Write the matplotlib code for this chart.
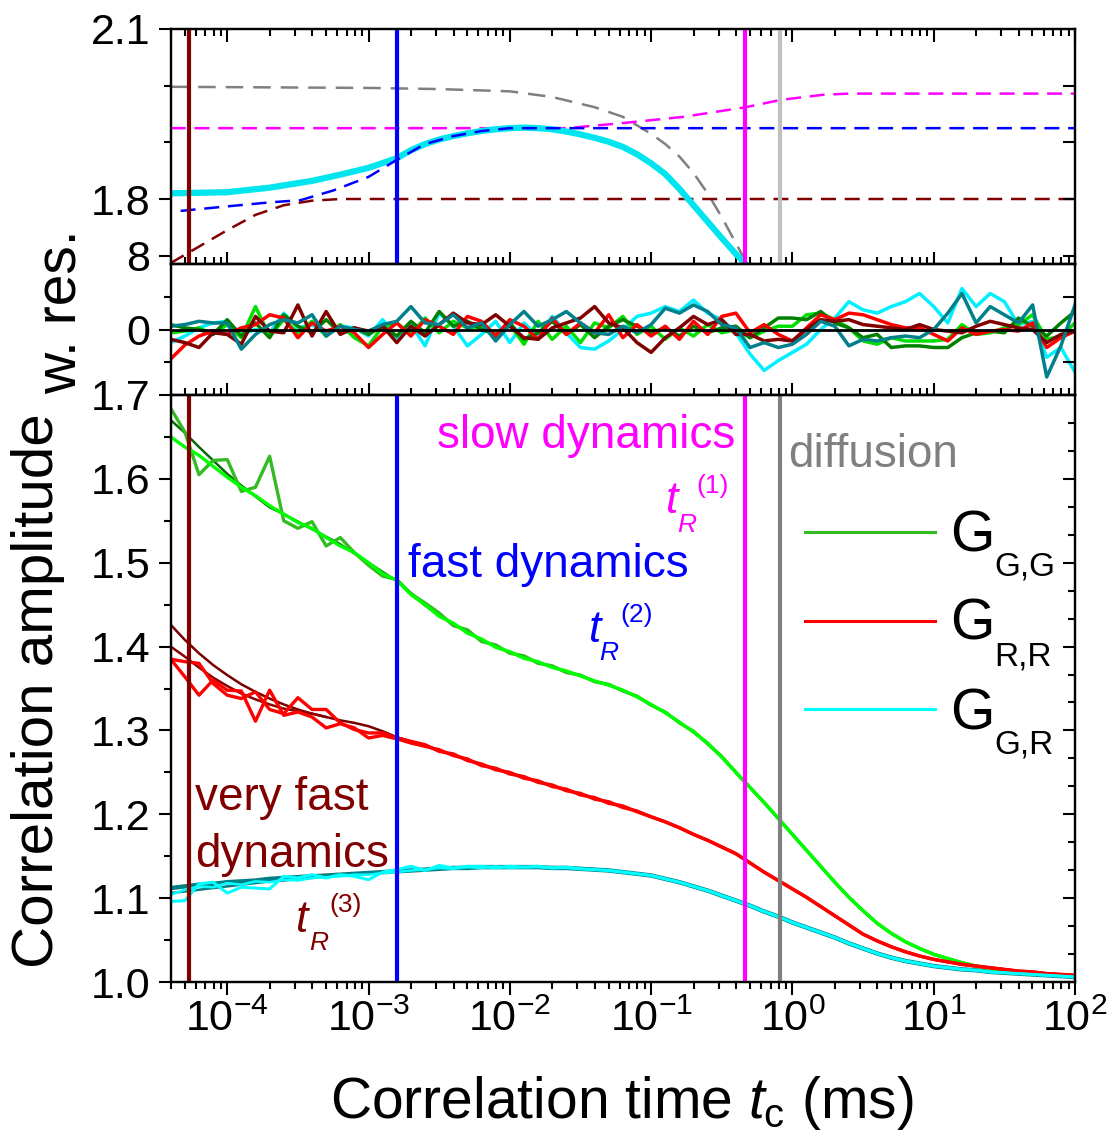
import numpy as np
import matplotlib
matplotlib.use('Agg')
import matplotlib.pyplot as plt
from matplotlib.lines import Line2D
from matplotlib.ticker import (FixedLocator, FixedFormatter, LogLocator, NullFormatter,
                               MultipleLocator, AutoMinorLocator, FormatStrFormatter)

plt.rcParams['font.family'] = ['Liberation Sans', 'DejaVu Sans']
plt.rcParams['mathtext.fontset'] = 'custom'
plt.rcParams['mathtext.rm'] = 'Liberation Sans'
plt.rcParams['mathtext.it'] = 'Liberation Sans:italic'

# ---- data ----
# correlator lag grid: log10(t_c / ms), one point per 0.1 decade
log_t = np.round(np.arange(-4.4, 2.05, 0.1), 1)

# G_G,G : fit + two measured curves (noisy head, then on the fit)
gg_fit = [1.670, 1.655, 1.638, 1.622, 1.606, 1.592, 1.579, 1.566, 1.558, 1.549,
          1.540, 1.531, 1.522, 1.511, 1.500, 1.489, 1.478, 1.464, 1.449, 1.438,
          1.427, 1.417, 1.408, 1.400, 1.393, 1.387, 1.381, 1.376, 1.370, 1.365,
          1.359, 1.354, 1.348, 1.340, 1.331, 1.321, 1.310, 1.298, 1.285, 1.268,
          1.250, 1.232, 1.214, 1.195, 1.176, 1.157, 1.138, 1.119, 1.101, 1.085,
          1.070, 1.058, 1.048, 1.040, 1.033, 1.028, 1.023, 1.019, 1.016, 1.014,
          1.012, 1.010, 1.009, 1.008, 1.007]
gg_a_head = [1.650, 1.638, 1.628, 1.615, 1.602, 1.590, 1.580, 1.568, 1.558, 1.548,
             1.541, 1.530, 1.520, 1.512, 1.500, 1.487, 1.479, 1.462, 1.450, 1.436,
             1.428, 1.416, 1.409, 1.399, 1.394, 1.386, 1.382, 1.375, 1.371, 1.365]
gg_b_head = [1.684, 1.656, 1.605, 1.622, 1.623, 1.585, 1.590, 1.627, 1.550, 1.541,
             1.549, 1.520, 1.530, 1.512, 1.497, 1.484, 1.480, 1.463, 1.452, 1.440,
             1.425, 1.420, 1.406, 1.402, 1.392, 1.389, 1.380, 1.377, 1.369, 1.366,
             1.358, 1.355, 1.347, 1.341, 1.330, 1.322, 1.309, 1.299, 1.284, 1.269]

# G_R,R
rr_fit = [1.426, 1.408, 1.392, 1.378, 1.366, 1.355, 1.346, 1.338, 1.331, 1.325,
          1.320, 1.316, 1.312, 1.309, 1.305, 1.299, 1.292, 1.287, 1.282, 1.276,
          1.271, 1.265, 1.259, 1.254, 1.249, 1.244, 1.239, 1.234, 1.229, 1.224,
          1.219, 1.214, 1.209, 1.203, 1.197, 1.191, 1.184, 1.176, 1.169, 1.161,
          1.153, 1.142, 1.131, 1.121, 1.111, 1.101, 1.090, 1.079, 1.068, 1.057,
          1.049, 1.042, 1.036, 1.031, 1.027, 1.024, 1.021, 1.019, 1.017, 1.015,
          1.013, 1.012, 1.010, 1.009, 1.008]
rr_fit2 = [1.400, 1.388, 1.375, 1.363, 1.353, 1.344, 1.337, 1.331, 1.326, 1.323,
           1.320, 1.316]
rr_a_head = [1.385, 1.382, 1.380, 1.356, 1.342, 1.338, 1.346, 1.325, 1.320, 1.339,
             1.325, 1.325, 1.309, 1.301, 1.297, 1.297, 1.291, 1.287, 1.283, 1.275,
             1.272, 1.264, 1.260, 1.253, 1.250, 1.243, 1.240, 1.233, 1.230, 1.223,
             1.220, 1.213, 1.210, 1.203]
rr_b_head = [1.385, 1.364, 1.342, 1.360, 1.348, 1.347, 1.311, 1.348, 1.318, 1.322,
             1.316, 1.303, 1.308, 1.303, 1.291, 1.294, 1.290, 1.285, 1.281, 1.277,
             1.270, 1.266, 1.258, 1.255, 1.248, 1.245, 1.238, 1.235, 1.228, 1.225,
             1.218, 1.215, 1.208, 1.204]

# G_G,R
gr_fit = [1.112, 1.114, 1.116, 1.117, 1.119, 1.120, 1.121, 1.123, 1.124, 1.125,
          1.126, 1.127, 1.128, 1.129, 1.130, 1.131, 1.132, 1.133, 1.134, 1.135,
          1.136, 1.136, 1.137, 1.137, 1.137, 1.137, 1.137, 1.136, 1.136, 1.135,
          1.134, 1.133, 1.131, 1.129, 1.127, 1.123, 1.119, 1.114, 1.109, 1.103,
          1.097, 1.091, 1.084, 1.078, 1.071, 1.065, 1.059, 1.053, 1.046, 1.040,
          1.034, 1.029, 1.025, 1.022, 1.019, 1.017, 1.015, 1.014, 1.012, 1.011,
          1.010, 1.009, 1.008, 1.007, 1.006]
gr_fit2 = [1.106, 1.108, 1.110, 1.112, 1.114, 1.116, 1.118, 1.120, 1.121, 1.123,
           1.124, 1.126, 1.127, 1.129]
gr_a_head = [1.096, 1.097, 1.117, 1.119, 1.106, 1.113, 1.112, 1.111, 1.126, 1.124,
             1.128, 1.124, 1.128, 1.126, 1.122, 1.131, 1.134, 1.138, 1.133, 1.139,
             1.136, 1.138, 1.138, 1.136, 1.138, 1.137, 1.138, 1.136, 1.137, 1.135]
gr_b_head = [1.104, 1.110, 1.114, 1.113, 1.118, 1.116, 1.120, 1.119, 1.122, 1.121,
             1.124, 1.125, 1.126, 1.128, 1.128, 1.130, 1.131, 1.133, 1.134, 1.136,
             1.135, 1.137, 1.136, 1.138, 1.136]

gg_a = gg_a_head + gg_fit[len(gg_a_head):]
gg_b = gg_b_head + gg_fit[len(gg_b_head):]
rr_a = rr_a_head + rr_fit[len(rr_a_head):]
rr_b = rr_b_head + rr_fit[len(rr_b_head):]
gr_a = gr_a_head + gr_fit[len(gr_a_head):]
gr_b = gr_b_head + gr_fit[len(gr_b_head):]

# weighted residuals
res_green = [-0.2, -0.1, 0.1, -0.3, 0.3, -0.5, 1.4, -0.4, 0.6, -0.2,
             0.5, -0.4, 0.3, -0.5, -1.0, 0.2, 0.4, -0.3, 0.7, -0.2,
             0.5, 0.1, 0.2, -0.5, 0.3, -0.9, 0.5, -0.6, 0.2, -0.8,
             0.4, 0.1, 0.8, -0.3, 0.2, -0.6, 0.1, -0.4, 0.3, -0.2,
             0.0, -0.5, -0.1, 0.2, 0.2, 0.9, 1.0, 0.6, 0.1, -0.7,
             -0.9, -0.5, -0.7, -0.7, -0.7, -0.6, 0.3, -0.3, -0.2, 0.1,
             0.3, 0.9, -0.6, -0.4, 0.4]
res_dgreen = [0.3, 0.1, 0.0, -0.3, 0.6, -0.4, 0.4, -0.5, 0.9, 0.2,
              -0.2, 0.6, -0.2, 0.1, -0.3, 0.2, -0.4, 0.5, -0.2, 1.1,
              0.2, 0.5, 0.0, -0.3, 0.4, -0.6, -0.2, 0.5, -0.3, 0.3,
              -0.5, 0.2, 0.6, 0.2, -0.2, 0.1, -0.4, 0.2, -0.2, 0.1,
              0.2, -0.5, 0.1, 0.7, 0.7, 0.6, 1.1, 0.4, 0.1, -0.5,
              -0.3, -1.1, -1.0, -1.0, -1.1, -1.1, -0.5, -0.2, -0.1, -0.2,
              0.7, 0.2, -0.4, 0.4, 1.1]
res_red = [-1.8, -0.95, -0.4, -0.1, -0.3, 0.1, 0.3, 0.9, 0.7, -0.5,
           0.4, -0.1, 0.2, -0.2, -1.1, -0.3, 0.4, -0.4, 0.6, 0.2,
           -0.3, 0.8, 0.5, -0.4, 0.6, 0.2, -0.6, 0.7, -0.3, 0.4,
           -0.2, 0.9, -0.5, 0.3, -0.4, 0.2, -0.6, 0.5, -0.3, 0.8,
           1.0, -0.2, 0.3, -0.3, -0.7, 0.1, 0.9, 0.6, 1.0, 0.9,
           0.6, 0.3, 0.1, 0.1, -0.3, -0.7, 0.1, -0.3, -0.1, 0.0,
           -0.1, 0.4, -1.1, -0.5, -0.1]
res_dred = [-0.6, -0.8, -1.1, -0.2, -0.3, -0.9, 0.8, -0.1, -0.2, 1.5,
            -0.4, 1.1, -0.3, 0.1, -0.1, 0.2, -0.8, 0.2, -0.4, 0.3,
            1.0, 0.4, 0.3, 0.9, 0.2, -0.5, -0.6, 0.1, 0.4, 0.7,
            1.4, 0.4, 0.1, -0.8, -1.4, -0.5, 0.1, 0.8, 0.3, 0.6,
            -0.3, -0.3, -0.7, -0.6, -0.7, 0.0, 0.6, 0.5, 0.6, 0.3,
            0.2, 0.1, 0.0, 0.3, 0.0, -0.1, -0.2, 0.2, 0.5, 0.3,
            0.1, 0.0, -0.8, -0.3, -0.1]
res_cyan = [-0.8, -0.4, 0.1, 0.4, 0.5, -0.3, 0.0, -0.2, 1.0, 0.1,
            0.3, -0.3, 0.2, 0.1, -0.4, 0.6, -0.5, 0.3, -1.0, 1.0,
            0.2, -1.0, -0.3, 0.5, -0.8, 0.4, -0.4, 0.8, -0.2, -1.1,
            -1.2, -0.7, 0.0, 0.8, 1.0, 1.4, 1.1, 1.8, 1.0, 0.6,
            -0.2, -1.5, -2.5, -1.9, -1.4, -0.9, 0.0, 0.7, 1.7, 1.2,
            1.0, 1.4, 1.7, 2.2, 1.4, 0.4, 2.5, 1.4, 2.2, 1.7,
            0.3, 0.5, -1.7, -1.1, -2.6]
res_teal = [0.2, 0.3, 0.5, 0.4, 0.4, -1.2, -0.3, 0.3, 0.6, 0.4,
            0.9, -0.4, 0.2, 0.0, -0.1, 0.3, 0.5, 1.4, 0.4, 0.3,
            0.9, 0.1, 0.4, -0.7, 0.3, 1.1, 0.2, 0.6, 1.1, 0.4,
            -0.2, -0.3, 0.2, -0.2, 0.3, 1.3, 1.0, 1.5, 1.1, 0.3,
            0.1, -1.1, -0.8, -1.1, -0.9, -0.3, 0.5, 0.2, -1.0, -0.6,
            -0.7, -0.5, -0.4, -0.5, 0.0, 1.0, 2.2, 0.4, 1.4, 0.9,
            0.4, 1.5, -2.9, -1.0, 1.5]

# top panel: G_G,R fit (cyan) and its components (dashed)
top_cyan_log = [-4.4, -4.0, -3.7, -3.4, -3.2, -3.0, -2.8, -2.7, -2.6, -2.5, -2.4, -2.3, -2.2,
                -2.1, -2.0, -1.9, -1.8, -1.7, -1.6, -1.5, -1.4, -1.3, -1.2, -1.1, -1.0,
                -0.9, -0.8, -0.7, -0.6, -0.5, -0.4, -0.33]
top_cyan_val = [1.810, 1.812, 1.820, 1.832, 1.843, 1.855, 1.872, 1.886, 1.897, 1.905, 1.911,
                1.916, 1.920, 1.923, 1.925, 1.926, 1.925, 1.923, 1.919, 1.914, 1.908, 1.901,
                1.892, 1.879, 1.863, 1.844, 1.818, 1.789, 1.760, 1.731, 1.703, 1.685]
top_blue_log = [-4.33, -4.0, -3.7, -3.48, -3.25, -3.0, -2.8, -2.6, -2.4, -2.2, -2.0, 2.0]
top_blue_val = [1.779, 1.787, 1.794, 1.798, 1.815, 1.839, 1.869, 1.897, 1.911, 1.920, 1.925, 1.925]
top_brown_log = [-4.4, -4.2, -4.0, -3.8, -3.6, -3.4, -3.2, 2.0]
top_brown_val = [1.687, 1.716, 1.745, 1.772, 1.789, 1.797, 1.800, 1.800]
top_gray_log = [-4.4, -3.0, -2.5, -2.0, -1.7, -1.4, -1.2, -1.0, -0.9, -0.8, -0.7, -0.6,
                -0.5, -0.4, -0.32]
top_gray_val = [1.998, 1.996, 1.994, 1.990, 1.980, 1.962, 1.945, 1.915, 1.897, 1.875, 1.846,
                1.810, 1.768, 1.722, 1.685]
top_mag_log = [-4.4, -1.6, -1.2, -0.77, -0.33, -0.08, 0.22, 0.4, 2.0]
top_mag_val = [1.925, 1.925, 1.934, 1.945, 1.962, 1.975, 1.984, 1.986, 1.986]

# relaxation / diffusion times (ms)
t_vlines = [5.4e-5, 1.58e-3, 0.465, 0.82]
vline_colors_top = ['#800000', '#0000ff', '#ff00ff', '#c0c0c0']
vline_colors_main = ['#800000', '#0000ff', '#ff00ff', '#808080']

decades = [1e-4, 1e-3, 1e-2, 1e-1, 1e0, 1e1, 1e2]
xtick_labels = ['10$^{-4}$', '10$^{-3}$', '10$^{-2}$', '10$^{-1}$', '10$^{0}$', '10$^{1}$', '10$^{2}$']

# ---- figure ----
W, H = 1109, 1142
fig = plt.figure(figsize=(W / 100, H / 100), dpi=100)
L, R = 171, 1075


def box(top, bottom):
    return [L / W, 1 - bottom / H, (R - L) / W, (bottom - top) / H]


def label(px, py, s, **kw):
    fig.text(px / W, 1 - py / H, s, **kw)


ax_top = fig.add_axes(box(29, 264))
ax_res = fig.add_axes(box(264, 395))
ax_main = fig.add_axes(box(395, 982))

t = 10.0 ** log_t

# top panel
ax_top.plot(10.0 ** np.array(top_gray_log), top_gray_val, color='#808080', lw=1.8, ls=(0, (7, 4)))
ax_top.plot(10.0 ** np.array(top_mag_log), top_mag_val, color='#ff00ff', lw=1.8, ls=(0, (6, 3.5)))
ax_top.plot(10.0 ** np.array(top_brown_log), top_brown_val, color='#800000', lw=1.8, ls=(0, (6, 3.5)))
ax_top.plot(10.0 ** np.array(top_cyan_log), top_cyan_val, color='#00e5ee', lw=4.5)
ax_top.plot(10.0 ** np.array(top_blue_log), top_blue_val, color='#0000ff', lw=1.8, ls=(0, (6, 3.5)))
for xv, c in zip(t_vlines, vline_colors_top):
    ax_top.axvline(xv, color=c, lw=3, zorder=5)
ax_top.set_ylim(1.6853, 2.1)

# residuals
for vals, c in [(res_cyan, '#00f0ff'), (res_green, '#00e000'), (res_dgreen, '#008000'),
                (res_red, '#ff0000'), (res_dred, '#800000'), (res_teal, '#00808a')]:
    ax_res.plot(t, vals, color=c, lw=2.5)
ax_res.axhline(0, color='black', lw=2, zorder=6)
ax_res.set_ylim(-4, 4)

# main panel
ax_main.plot(t, gg_fit, color='#0a6a0a', lw=1.8)
ax_main.plot(t, rr_fit, color='#7a0000', lw=1.8)
ax_main.plot(t[:len(rr_fit2)], rr_fit2, color='#8b0000', lw=1.8)
ax_main.plot(t, gr_fit, color='#007f86', lw=3.2)
ax_main.plot(t[:len(gr_fit2)], gr_fit2, color='#007f86', lw=1.8)
ax_main.plot(t, gg_b, color='#33bb22', lw=2.4)
ax_main.plot(t, gg_a, color='#00ff00', lw=2.4)
ax_main.plot(t, rr_b, color='#ff0000', lw=2.4)
ax_main.plot(t, rr_a, color='#ff0000', lw=2.4)
ax_main.plot(t, gr_b, color='#00ffff', lw=1.8)
ax_main.plot(t, gr_a, color='#00ffff', lw=2.2)
for xv, c in zip(t_vlines, vline_colors_main):
    ax_main.axvline(xv, color=c, lw=3, zorder=5)
ax_main.set_ylim(1.0, 1.7)

# axes styling
for ax in (ax_top, ax_res, ax_main):
    ax.set_xscale('log')
    ax.set_xlim(4.0e-5, 100)
    ax.xaxis.set_major_locator(FixedLocator(decades))
    ax.xaxis.set_minor_locator(LogLocator(base=10, subs=np.arange(2, 10), numticks=20))
    ax.xaxis.set_minor_formatter(NullFormatter())
    for s in ax.spines.values():
        s.set_linewidth(1.6)
    ax.tick_params(which='both', width=1.5)
    ax.tick_params(which='major', length=9)
    ax.tick_params(which='minor', length=5)
    ax.tick_params(axis='y', which='both', direction='out', left=True, right=False,
                   labelsize=31, pad=6)

ax_main.xaxis.set_major_formatter(FixedFormatter(xtick_labels))
ax_main.tick_params(axis='x', which='both', direction='out', top=False, bottom=True,
                    labelsize=31, pad=4)
ax_res.tick_params(axis='x', which='both', direction='in', top=False, bottom=True, labelbottom=False)
ax_top.tick_params(axis='x', which='both', direction='in', top=True, bottom=True, labelbottom=False)

ax_main.yaxis.set_major_locator(MultipleLocator(0.1))
ax_main.yaxis.set_minor_locator(MultipleLocator(0.05))
ax_main.yaxis.set_major_formatter(FormatStrFormatter('%.1f'))

ax_res.yaxis.set_major_locator(FixedLocator([0]))
ax_res.yaxis.set_minor_locator(FixedLocator([-2, 2]))
ax_res.yaxis.set_major_formatter(FixedFormatter(['0']))

ax_top.yaxis.set_major_locator(FixedLocator([1.7, 1.8, 2.1]))
ax_top.yaxis.set_minor_locator(FixedLocator([1.9, 2.0]))
ax_top.yaxis.set_major_formatter(FixedFormatter(['8', '1.8', '2.1']))


def right_ticks(ax, major, minor=None):
    tw = ax.twinx()
    tw.set_ylim(ax.get_ylim())
    tw.yaxis.set_major_locator(major)
    if minor is not None:
        tw.yaxis.set_minor_locator(minor)
    tw.tick_params(axis='y', which='both', direction='in', labelright=False, width=1.5)
    tw.tick_params(axis='y', which='major', length=9)
    tw.tick_params(axis='y', which='minor', length=5)
    for s in tw.spines.values():
        s.set_linewidth(1.6)


right_ticks(ax_main, MultipleLocator(0.1), AutoMinorLocator(3))
right_ticks(ax_res, FixedLocator([-2, 0, 2]))
right_ticks(ax_top, FixedLocator([1.7, 1.8, 1.9, 2.0]))

# axis titles
label(38, 691, 'Correlation amplitude', size=42, rotation=90, ha='center', va='center')
label(62, 312, 'w. res.', size=41, rotation=90, ha='center', va='center')
label(622, 1118, r'Correlation time $\mathit{t}_{\mathrm{c}}$ (ms)', size=41, ha='center', va='baseline')

# annotations
label(735, 448, 'slow dynamics', color='#ff00ff', size=33, ha='right', va='baseline')
label(788, 467, 'diffusion', color='#808080', size=33, va='baseline')
label(408, 577, 'fast dynamics', color='#0000ff', size=33, va='baseline')
label(195, 810, 'very fast', color='#800000', size=33, va='baseline')
label(195, 867, 'dynamics', color='#800000', size=33, va='baseline')

for (tx, ty, rx, ry, nx, ny, n, c) in [(666, 513, 677, 532, 696, 493, '(1)', '#ff00ff'),
                                       (589, 642, 599, 660, 620, 622, '(2)', '#0000ff'),
                                       (296, 932, 309, 950, 329, 912, '(3)', '#800000')]:
    label(tx, ty, 't', color=c, size=32, style='italic', va='baseline')
    label(rx, ry, 'R', color=c, size=19, style='italic', va='baseline')
    label(nx, ny, n, color=c, size=19, va='baseline')

# legend
for ly, gb, sb, sub, c in [(532, 552, 575, 'G,G', '#33bb22'),
                           (621, 640, 665, 'R,R', '#ff0000'),
                           (709, 730, 754, 'G,R', '#00ffff')]:
    fig.add_artist(Line2D([805 / W, 935 / W], [1 - ly / H] * 2, color=c, lw=2.2,
                          transform=fig.transFigure))
    label(950, gb, 'G', size=41, va='baseline')
    label(994, sb, sub, size=24, va='baseline')

fig.savefig('out.png', dpi=100, facecolor='white')
